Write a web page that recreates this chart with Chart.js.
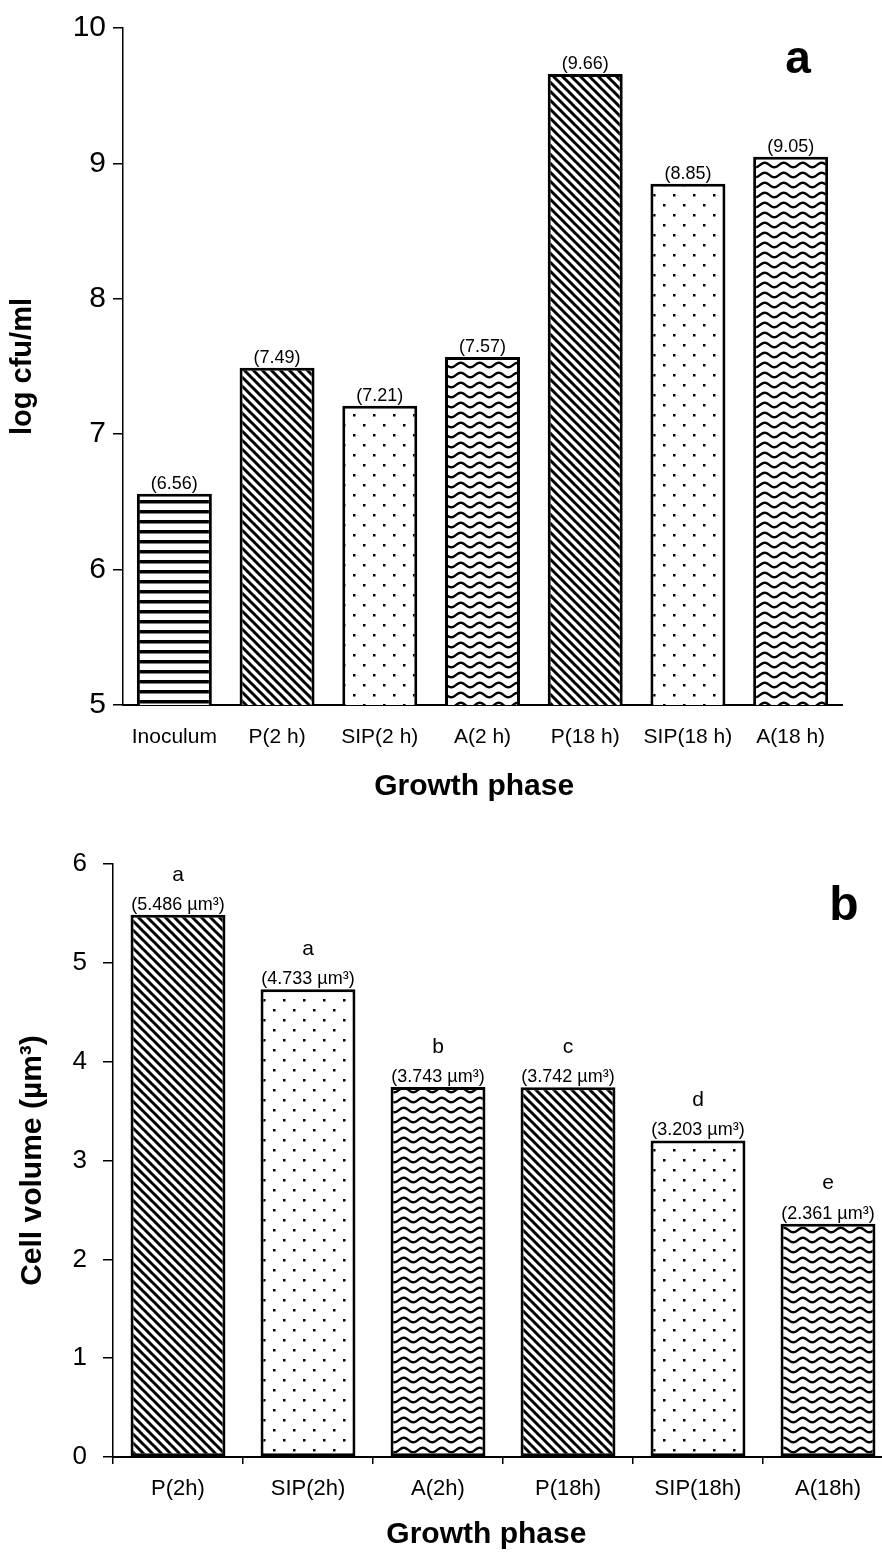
<!DOCTYPE html>
<html>
<head>
<meta charset="utf-8">
<script src="https://cdn.jsdelivr.net/npm/chart.js@4"></script>
<style>
  html, body { margin: 0; padding: 0; background: #fff; overflow: hidden; }
  #wrap { position: relative; width: 882px; height: 1555px; overflow: hidden; }
  canvas { position: absolute; left: 0; }
  #chart-a { top: 0; }
  #chart-b { top: 815px; }
</style>
</head>
<body>
<div id="wrap">
  <canvas id="chart-a" width="882" height="815"></canvas>
  <canvas id="chart-b" width="900" height="740"></canvas>
</div>
<script>
// ---- data -------------------------------------------------------------------
var phasesA = ['Inoculum', 'P(2 h)', 'SIP(2 h)', 'A(2 h)', 'P(18 h)', 'SIP(18 h)', 'A(18 h)'];
var logCfu = [6.56, 7.49, 7.21, 7.57, 9.66, 8.85, 9.05];

var phasesB = ['P(2h)', 'SIP(2h)', 'A(2h)', 'P(18h)', 'SIP(18h)', 'A(18h)'];
var cellVolume = [5.486, 4.733, 3.743, 3.742, 3.203, 2.361];
var groupLetters = ['a', 'a', 'b', 'c', 'd', 'e'];

(function () {
    'use strict';

    var FONT = '"Liberation Sans", Arial, Helvetica, sans-serif';
    Chart.defaults.font.family = FONT;
    Chart.defaults.color = '#000';
    Chart.defaults.animation = false;

    // ---- hatch fills (white ground, black ink) ----------------------------
    var makePattern = function (kind) {
        var c = document.createElement('canvas');
        var g = c.getContext('2d');
        var w = 10, h = 10;
        if (kind === 'diag') { w = 9; h = 9; }
        if (kind === 'dots') { w = 20; h = 20; }
        if (kind === 'wave') { w = 19; h = 10; }
        c.width = w; c.height = h;
        g.fillStyle = '#fff';
        g.fillRect(0, 0, w, h);
        g.fillStyle = '#000';
        g.strokeStyle = '#000';
        if (kind === 'hlines') {
            g.fillRect(0, 0, w, 3.5);
        } else if (kind === 'diag') {
            g.lineWidth = 3;
            g.beginPath();
            [-1, 0, 1].forEach(function (k) {
                g.moveTo(k * w - 1, -1);
                g.lineTo(k * w + w + 1, h + 1);
            });
            g.stroke();
        } else if (kind === 'dots') {
            g.fillRect(3, 4, 2.5, 2.5);
            g.fillRect(13, 14, 2.5, 2.5);
        } else if (kind === 'wave') {
            g.lineWidth = 2.4;
            g.beginPath();
            for (var x = -1; x <= w + 1; x += 0.5) {
                var y = 5 - 2.2 * Math.sin(2 * Math.PI * x / w);
                if (x === -1) g.moveTo(x, y); else g.lineTo(x, y);
            }
            g.stroke();
        }
        return g.createPattern(c, 'repeat');
    };

    var fillFor = function (label) {
        if (label.indexOf('SIP') === 0) return makePattern('dots');
        if (label.indexOf('P(') === 0) return makePattern('diag');
        if (label.indexOf('A(') === 0) return makePattern('wave');
        return makePattern('hlines');
    };

    // ---- value labels, group letters, panel letter ------------------------
    var barText = {
        id: 'barText',
        afterDatasetsDraw: function (chart, args, o) {
            var ctx = chart.ctx;
            var meta = chart.getDatasetMeta(0);
            var values = chart.data.datasets[0].data;
            ctx.save();
            ctx.fillStyle = '#000';
            ctx.textAlign = 'center';
            ctx.textBaseline = 'middle';
            meta.data.forEach(function (bar, i) {
                ctx.font = o.valueFont;
                ctx.fillText(o.format(values[i]), bar.x, bar.y - o.valueGap);
                if (o.letters) {
                    ctx.font = o.letterFont;
                    ctx.fillText(o.letters[i], bar.x, bar.y - o.letterGap);
                }
            });
            ctx.font = o.panelFont;
            ctx.fillText(o.panel, o.panelX, o.panelY);
            ctx.restore();
        }
    };

    var yAxis = function (min, max, width, tickFont, tickPad, title, titleFont, titlePad) {
        return {
            min: min,
            max: max,
            afterFit: function (s) { s.width = width; },
            ticks: { stepSize: 1, font: { size: tickFont }, padding: tickPad, color: '#000' },
            grid: { drawOnChartArea: false, drawTicks: true, tickLength: 10, color: '#000', lineWidth: 1.5 },
            border: { display: true, color: '#000', width: 1.5 },
            title: {
                display: true, text: title, color: '#000',
                font: { size: titleFont, weight: 'bold' },
                padding: { top: titlePad, bottom: 0 }
            }
        };
    };

    // ---- panel a: log cfu/ml ----------------------------------------------
    new Chart(document.getElementById('chart-a'), {
        type: 'bar',
        data: {
            labels: phasesA,
            datasets: [{
                data: logCfu,
                backgroundColor: phasesA.map(fillFor),
                borderColor: '#000',
                borderWidth: 3,
                borderSkipped: false,
                categoryPercentage: 1,
                barPercentage: 0.73
            }]
        },
        options: {
            responsive: false,
            layout: { padding: { left: 0, right: 40, top: 28, bottom: 0 } },
            plugins: {
                legend: { display: false },
                tooltip: { enabled: false },
                barText: {
                    valueFont: '18px ' + FONT,
                    valueGap: 10,
                    format: function (v) { return '(' + v.toFixed(2) + ')'; },
                    panel: 'a', panelFont: 'bold 46px ' + FONT, panelX: 798, panelY: 60
                }
            },
            scales: {
                x: {
                    afterFit: function (s) { s.height = 110; },
                    ticks: { font: { size: 21 }, padding: 20, color: '#000', maxRotation: 0, autoSkip: false },
                    grid: { display: false, drawTicks: false },
                    border: { display: true, color: '#000', width: 2 },
                    title: {
                        display: true, text: 'Growth phase  ', color: '#000',
                        font: { size: 30, weight: 'bold' },
                        padding: { top: 0, bottom: 10 }
                    }
                },
                y: yAxis(5, 10, 123, 30, 7, 'log cfu/ml', 29, 6)
            }
        },
        plugins: [barText]
    });

    // ---- panel b: cell volume ---------------------------------------------
    new Chart(document.getElementById('chart-b'), {
        type: 'bar',
        data: {
            labels: phasesB,
            datasets: [{
                data: cellVolume,
                backgroundColor: phasesB.map(fillFor),
                borderColor: '#000',
                borderWidth: 3,
                borderSkipped: false,
                categoryPercentage: 1,
                barPercentage: 0.73
            }]
        },
        options: {
            responsive: false,
            layout: { padding: { left: 0, right: 7, top: 49, bottom: 0 } },
            plugins: {
                legend: { display: false },
                tooltip: { enabled: false },
                barText: {
                    valueFont: '18px ' + FONT,
                    valueGap: 10,
                    format: function (v) { return '(' + v.toFixed(3) + ' µm³)'; },
                    letters: groupLetters,
                    letterFont: '21px ' + FONT,
                    letterGap: 40,
                    panel: 'b', panelFont: 'bold 48px ' + FONT, panelX: 844, panelY: 92
                }
            },
            scales: {
                x: {
                    afterFit: function (s) { s.height = 98; },
                    ticks: { font: { size: 22 }, padding: 12, color: '#000', maxRotation: 0, autoSkip: false },
                    grid: { drawOnChartArea: false, drawTicks: true, tickLength: 7, color: '#000', lineWidth: 1.5 },
                    border: { display: true, color: '#000', width: 2 },
                    title: {
                        display: true, text: 'Growth phase    ', color: '#000',
                        font: { size: 30, weight: 'bold' },
                        padding: { top: 0, bottom: 2 }
                    }
                },
                y: yAxis(0, 6, 113, 26, 16, 'Cell volume (µm³)', 30, 15)
            }
        },
        plugins: [barText]
    });
})();
</script>
</body>
</html>
